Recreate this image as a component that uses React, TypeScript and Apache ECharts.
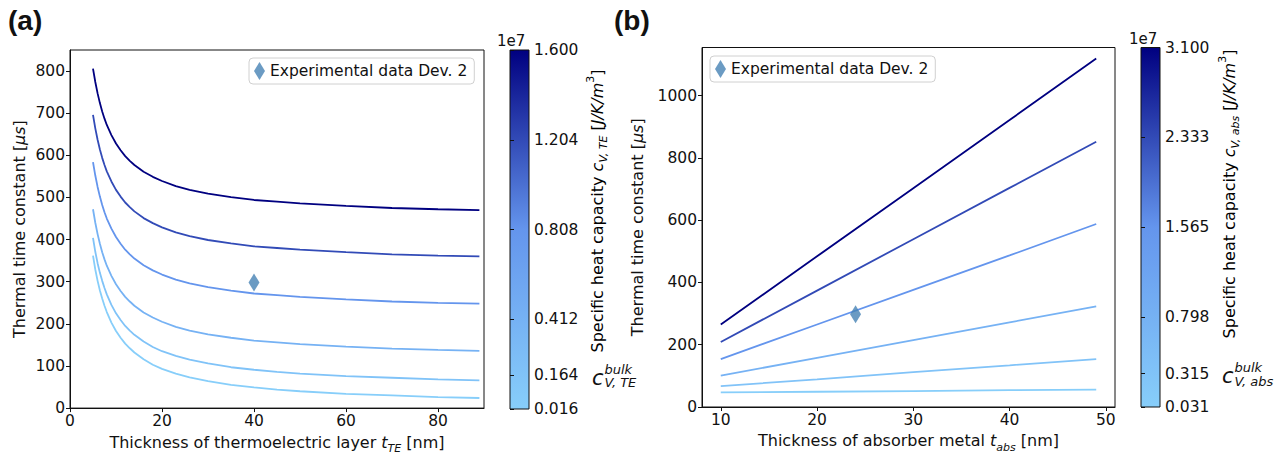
import React, { useEffect, useRef } from 'react';
import * as echarts from 'echarts';

// ---------- data ----------
const X_TE = [5, 5.5, 6, 6.5, 7, 7.5, 8, 9, 10, 11, 12, 13, 14, 16, 18, 20, 23, 26, 30, 35, 40, 45, 50, 60, 70, 80, 89];
const TAU_TE_1600 = [806, 774, 747, 724, 704, 687, 672, 648, 628, 612, 598, 587, 577, 561, 549, 539, 527, 518, 509, 501, 494, 490, 486, 480, 475, 472, 470];
const TAU_TE_1204 = [696, 664, 637, 614, 594, 577, 562, 538, 518, 502, 488, 477, 467, 451, 439, 429, 417, 408, 399, 391, 384, 380, 376, 370, 365, 362, 360];
const TAU_TE_0808 = [584, 552, 525, 502, 482, 465, 450, 426, 406, 390, 376, 365, 355, 339, 327, 317, 305, 296, 287, 279, 272, 268, 264, 258, 253, 250, 248];
const TAU_TE_0412 = [472, 440, 413, 390, 370, 353, 338, 314, 294, 278, 264, 253, 243, 227, 215, 205, 193, 184, 175, 167, 160, 156, 152, 146, 141, 138, 136];
const TAU_TE_0164 = [404, 371, 344, 321, 302, 285, 270, 245, 225, 209, 195, 184, 174, 158, 145, 135, 124, 115, 106, 97, 91, 86, 82, 76, 72, 68, 66];
const TAU_TE_0016 = [362, 329, 302, 279, 260, 243, 228, 203, 183, 167, 153, 142, 132, 116, 103, 93, 82, 73, 64, 55, 49, 44, 40, 34, 30, 26, 24];
const TAU_TE_SERIES = [TAU_TE_1600, TAU_TE_1204, TAU_TE_0808, TAU_TE_0412, TAU_TE_0164, TAU_TE_0016];
const C_TE_LEVELS = [1.6, 1.204, 0.808, 0.412, 0.164, 0.016];
const C_TE_TICKS = [0.016, 0.164, 0.412, 0.808, 1.204, 1.6];

const X_ABS = [10, 20, 30, 40, 49];
const TAU_ABS_3100 = [265, 484, 703, 922, 1120];
const TAU_ABS_2333 = [209, 374, 539, 704, 852];
const TAU_ABS_1565 = [154, 265, 376, 487, 588];
const TAU_ABS_0798 = [101, 158, 215, 272, 323];
const TAU_ABS_0315 = [67, 89, 112, 134, 154];
const TAU_ABS_0031 = [47, 49, 51, 54, 56];
const TAU_ABS_SERIES = [TAU_ABS_3100, TAU_ABS_2333, TAU_ABS_1565, TAU_ABS_0798, TAU_ABS_0315, TAU_ABS_0031];
const C_ABS_LEVELS = [3.1, 2.333, 1.565, 0.798, 0.315, 0.031];
const C_ABS_TICKS = [0.031, 0.315, 0.798, 1.565, 2.333, 3.1];

const EXP_NAME = 'Experimental data Dev. 2';
const EXP_A = [[40, 298]];
const EXP_B = [[24, 298]];

const X_TICKS_A = [0, 20, 40, 60, 80];
const Y_TICKS_A = [0, 100, 200, 300, 400, 500, 600, 700, 800];
const X_TICKS_B = [10, 20, 30, 40, 50];
const Y_TICKS_B = [0, 200, 400, 600, 800, 1000];

// ---------- style ----------
const FONT = 'DejaVu Sans';
const INK = '#111111';
const TICK_FS = 15.5;
const TITLE_FS = 16;
const CMAP = [
  [0, [135, 206, 250]],
  [0.5, [100, 149, 237]],
  [1, [0, 0, 128]],
] as const;

function cmap(f: number): string {
  f = Math.max(0, Math.min(1, f));
  for (let i = 0; i < CMAP.length - 1; i++) {
    const [f0, c0] = CMAP[i];
    const [f1, c1] = CMAP[i + 1];
    if (f <= f1) {
      const t = (f - f0) / (f1 - f0);
      const c = c0.map((v, k) => Math.round(v + (c1[k] - v) * t));
      return `rgb(${c[0]},${c[1]},${c[2]})`;
    }
  }
  return 'rgb(0,0,128)';
}

const GA = { left: 70, top: 50, width: 414, height: 359 };
const CBA = { left: 510, top: 50, width: 19, height: 359 };
const GB = { left: 702, top: 47.5, width: 413, height: 359.5 };
const CBB = { left: 1141, top: 47.5, width: 19, height: 359.5 };

const richBase = {
  i: { fontStyle: 'italic', fontSize: TITLE_FS, fontFamily: FONT, color: INK, lineHeight: 24 },
  sub: { fontStyle: 'italic', fontSize: 11, fontFamily: FONT, color: INK, verticalAlign: 'bottom', lineHeight: 24 },
  sup: { fontSize: 11, fontFamily: FONT, color: INK, verticalAlign: 'top', lineHeight: 24 },
  n: { fontSize: TITLE_FS, fontFamily: FONT, color: INK, lineHeight: 24 },
};

function valueAxis(gridIndex: number, min: number, max: number, ticks: number[], extra: any = {}) {
  return {
    type: 'value',
    gridIndex,
    min,
    max,
    axisLine: { show: true, onZero: false, lineStyle: { color: INK, width: 1 } },
    axisTick: { show: true, inside: false, length: 4, customValues: ticks, lineStyle: { color: INK } },
    axisLabel: {
      show: true,
      customValues: ticks,
      color: INK,
      fontSize: TICK_FS,
      fontFamily: FONT,
      margin: 5,
      formatter: (v: number) => String(v),
    },
    splitLine: { show: false },
    ...extra,
  };
}

function hiddenAxis(gridIndex: number) {
  return { type: 'value', gridIndex, min: 0, max: 1, show: false };
}

function gradient() {
  return new echarts.graphic.LinearGradient(0, 0, 0, 1, [
    { offset: 0, color: cmap(1) },
    { offset: 0.5, color: cmap(0.5) },
    { offset: 1, color: cmap(0) },
  ]);
}

export default function App() {
  const ref = useRef<HTMLDivElement>(null);

  useEffect(() => {
    document.body.style.margin = '0';
    if (!ref.current) return;
    const chart = echarts.init(ref.current, undefined, { renderer: 'svg' });

    const teMin = C_TE_TICKS[0];
    const teMax = C_TE_TICKS[C_TE_TICKS.length - 1];
    const abMin = C_ABS_TICKS[0];
    const abMax = C_ABS_TICKS[C_ABS_TICKS.length - 1];

    const seriesA = TAU_TE_SERIES.map((arr, k) => ({
      type: 'line',
      name: `cTE ${C_TE_LEVELS[k]}`,
      xAxisIndex: 0,
      yAxisIndex: 0,
      data: X_TE.map((x, i) => [x, arr[i]]),
      smooth: false,
      showSymbol: false,
      lineStyle: { width: 1.8, color: cmap((C_TE_LEVELS[k] - teMin) / (teMax - teMin)) },
      itemStyle: { color: cmap((C_TE_LEVELS[k] - teMin) / (teMax - teMin)) },
      z: 2,
    }));

    const seriesB = TAU_ABS_SERIES.map((arr, k) => ({
      type: 'line',
      name: `cAbs ${C_ABS_LEVELS[k]}`,
      xAxisIndex: 2,
      yAxisIndex: 2,
      data: X_ABS.map((x, i) => [x, arr[i]]),
      showSymbol: false,
      lineStyle: { width: 1.8, color: cmap((C_ABS_LEVELS[k] - abMin) / (abMax - abMin)) },
      itemStyle: { color: cmap((C_ABS_LEVELS[k] - abMin) / (abMax - abMin)) },
      z: 2,
    }));

    const expStyle = {
      type: 'scatter',
      name: EXP_NAME,
      symbol: 'diamond',
      symbolSize: [11, 18],
      itemStyle: { color: '#4682b4' },
      z: 5,
    };

    const legendCommon = {
      data: [EXP_NAME],
      icon: 'diamond',
      itemWidth: 11,
      itemHeight: 18,
      itemGap: 6,
      padding: [4, 7, 4, 5],
      borderColor: '#d0d0d0',
      borderWidth: 1,
      borderRadius: 4,
      backgroundColor: '#fff',
      textStyle: { fontSize: 15.5, fontFamily: FONT, color: INK },
      selectedMode: false,
    };

    const cbTitle = (x: number, y: number, subTxt: string) => ({
      type: 'text',
      x,
      y,
      rotation: Math.PI / 2,
      style: {
        text: `{n|Specific heat capacity }{i|c}{sub|${subTxt}}{n| [}{i|J/K/m}{sup|3}{n|]}`,
        align: 'center',
        verticalAlign: 'middle',
        rich: richBase,
      },
    });

    const bulk = (x: number, yTick: number, subTxt: string) => ({
      type: 'group',
      children: [
        {
          type: 'text',
          x,
          y: yTick + 2.5,
          style: { text: 'c', fontSize: 21, fontStyle: 'italic', fontFamily: FONT, fill: INK, align: 'left', verticalAlign: 'middle' },
        },
        {
          type: 'text',
          x: x + 12.5,
          y: yTick - 6,
          style: { text: 'bulk', fontSize: 13, fontStyle: 'italic', fontFamily: FONT, fill: INK, align: 'left', verticalAlign: 'middle' },
        },
        {
          type: 'text',
          x: x + 12.5,
          y: yTick + 7.5,
          style: { text: subTxt, fontSize: 13, fontStyle: 'italic', fontFamily: FONT, fill: INK, align: 'left', verticalAlign: 'middle' },
        },
      ],
    });

    const tickY = (g: any, v: number, lo: number, hi: number) => g.top + g.height - ((v - lo) / (hi - lo)) * g.height;

    const titleStyle = { fontSize: TITLE_FS, fontFamily: FONT, color: INK, rich: richBase };

    const option: any = {
      animation: false,
      backgroundColor: '#ffffff',
      textStyle: { fontFamily: FONT },
      grid: [
        { ...GA, show: true, borderColor: INK, borderWidth: 1, backgroundColor: 'transparent', containLabel: false },
        { ...CBA, show: false, containLabel: false },
        { ...GB, show: true, borderColor: INK, borderWidth: 1, backgroundColor: 'transparent', containLabel: false },
        { ...CBB, show: false, containLabel: false },
      ],
      xAxis: [
        valueAxis(0, 0, 90, X_TICKS_A, {
          name: '{n|Thickness of thermoelectric layer }{i|t}{sub|TE}{n| [nm]}',
          nameLocation: 'middle',
          nameGap: 17,
          nameTextStyle: titleStyle,
        }),
        hiddenAxis(1),
        valueAxis(2, 8.05, 50.95, X_TICKS_B, {
          name: '{n|Thickness of absorber metal }{i|t}{sub|abs}{n| [nm]}',
          nameLocation: 'middle',
          nameGap: 21,
          nameTextStyle: titleStyle,
        }),
        hiddenAxis(3),
      ],
      yAxis: [
        valueAxis(0, 0, 850, Y_TICKS_A, {
          name: '{n|Thermal time constant [}{i|μs}{n|]}',
          nameLocation: 'middle',
          nameGap: 39,
          nameTextStyle: titleStyle,
        }),
        valueAxis(1, teMin, teMax, C_TE_TICKS, {
          position: 'right',
          axisLine: { show: false },
          axisLabel: {
            show: true,
            customValues: C_TE_TICKS,
            color: INK,
            fontSize: TICK_FS,
            fontFamily: FONT,
            margin: 5,
            formatter: (v: number) => v.toFixed(3),
          },
        }),
        valueAxis(2, 0, 1155, Y_TICKS_B, {
          name: '{n|Thermal time constant [}{i|μs}{n|]}',
          nameLocation: 'middle',
          nameGap: 53,
          nameTextStyle: titleStyle,
        }),
        valueAxis(3, abMin, abMax, C_ABS_TICKS, {
          position: 'right',
          axisLine: { show: false },
          axisLabel: {
            show: true,
            customValues: C_ABS_TICKS,
            color: INK,
            fontSize: TICK_FS,
            fontFamily: FONT,
            margin: 5,
            formatter: (v: number) => v.toFixed(3),
          },
        }),
      ],
      legend: [
        { ...legendCommon, left: 249, top: 58 },
        { ...legendCommon, left: 710, top: 56 },
      ],
      series: [
        ...seriesA,
        ...seriesB,
        { ...expStyle, xAxisIndex: 0, yAxisIndex: 0, data: EXP_A },
        { ...expStyle, xAxisIndex: 2, yAxisIndex: 2, data: EXP_B },
      ],
      graphic: [
        {
          type: 'text',
          left: 8,
          top: 6,
          style: { text: '(a)', fontSize: 28, fontWeight: 'bold', fontFamily: 'Liberation Sans', fill: '#111' },
        },
        {
          type: 'text',
          left: 614,
          top: 6,
          style: { text: '(b)', fontSize: 28, fontWeight: 'bold', fontFamily: 'Liberation Sans', fill: '#111' },
        },
        {
          type: 'rect',
          shape: { x: CBA.left, y: CBA.top, width: CBA.width, height: CBA.height },
          style: { fill: gradient(), stroke: INK, lineWidth: 1 },
          z: -1,
        },
        {
          type: 'rect',
          shape: { x: CBB.left, y: CBB.top, width: CBB.width, height: CBB.height },
          style: { fill: gradient(), stroke: INK, lineWidth: 1 },
          z: -1,
        },
        {
          type: 'text',
          x: 497,
          y: 48,
          style: { text: '1e7', fontSize: 15, fontFamily: FONT, fill: INK, align: 'left', verticalAlign: 'bottom' },
        },
        {
          type: 'text',
          x: 1129,
          y: 46,
          style: { text: '1e7', fontSize: 15, fontFamily: FONT, fill: INK, align: 'left', verticalAlign: 'bottom' },
        },
        cbTitle(597, 211, 'V, TE'),
        cbTitle(1229, 194, 'V, abs'),
        bulk(592, tickY(CBA, 0.164, teMin, teMax), 'V, TE'),
        bulk(1222, tickY(CBB, 0.315, abMin, abMax), 'V, abs'),
      ],
    };

    chart.setOption(option);
    return () => chart.dispose();
  }, []);

  return <div ref={ref} style={{ width: 1282, height: 459 }} />;
}
